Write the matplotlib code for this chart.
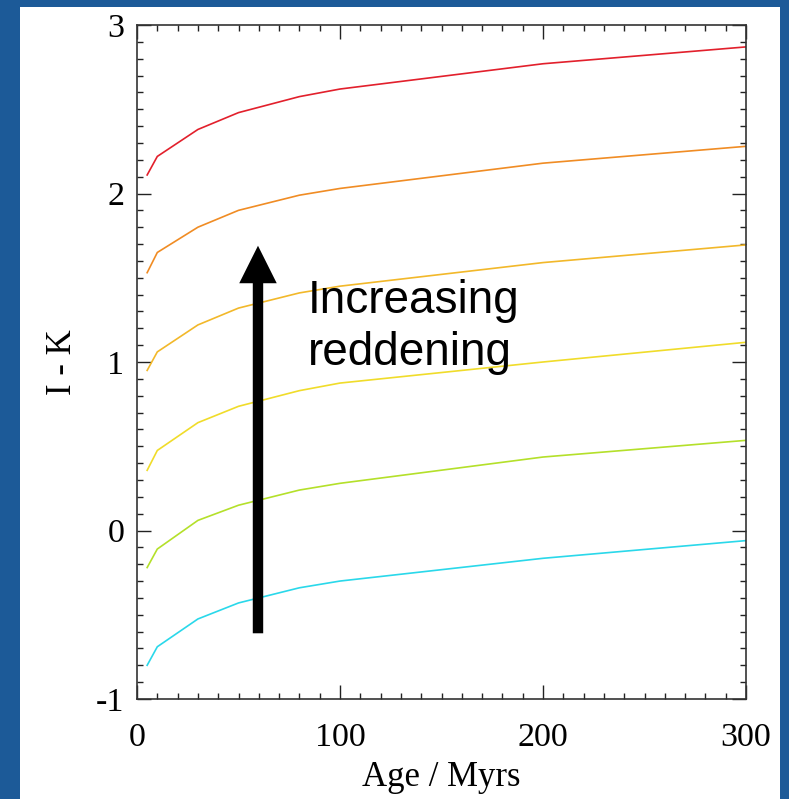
import numpy as np
import matplotlib
matplotlib.use("Agg")
import matplotlib.pyplot as plt
import matplotlib.patches as mpatches
from matplotlib.ticker import MultipleLocator

# Age grid (Myr) and I-K colour for each reddening level
ages = [5, 10, 30, 50, 80, 100, 200, 300]
ik_cyan = [-0.80, -0.69, -0.525, -0.43, -0.34, -0.30, -0.165, -0.06]
ik_green = [-0.22, -0.11, 0.06, 0.15, 0.24, 0.28, 0.436, 0.535]
ik_yellow = [0.357, 0.475, 0.64, 0.737, 0.83, 0.875, 1.0, 1.117]
ik_gold = [0.95, 1.06, 1.22, 1.32, 1.41, 1.45, 1.59, 1.695]
ik_orange = [1.53, 1.65, 1.80, 1.90, 1.99, 2.03, 2.18, 2.28]
ik_red = [2.11, 2.22, 2.38, 2.48, 2.575, 2.62, 2.77, 2.87]

series = [ik_cyan, ik_green, ik_yellow, ik_gold, ik_orange, ik_red]
colors = ['#2ad8ea', '#b4e02a', '#f0dc2a', '#f2b82a', '#f08c24', '#e2202c']

plt.rcParams['font.family'] = ['Liberation Serif', 'DejaVu Serif']
plt.rcParams['axes.unicode_minus'] = False

W, H = 789, 799
fig = plt.figure(figsize=(W / 100, H / 100), dpi=100)
fig.patch.set_facecolor('#1c5a98')

# white slide panel, drawn in a background axes
bg = fig.add_axes([20 / W, 0, 760 / W, (H - 7) / H], zorder=-5)
bg.set_facecolor('white')
bg.set_xticks([])
bg.set_yticks([])
for sp in bg.spines.values():
    sp.set_visible(False)

ax = fig.add_axes([137 / W, (H - 699) / H, (746 - 137) / W, (699 - 25) / H])
ax.set_facecolor('white')

for ys, c in zip(series, colors):
    ax.plot(ages, ys, color=c, lw=1.2)

ax.set_xlim(0, 300)
ax.set_ylim(-1, 3)
ax.xaxis.set_major_locator(MultipleLocator(100))
ax.xaxis.set_minor_locator(MultipleLocator(10))
ax.yaxis.set_major_locator(MultipleLocator(1))
ax.yaxis.set_minor_locator(MultipleLocator(0.1))
ax.tick_params(which='both', direction='in', top=True, right=True, color='#222222')
ax.tick_params(which='major', length=10, width=1)
ax.tick_params(which='minor', length=4.5, width=1)
ax.tick_params(axis='x', which='major', labelsize=24.5, pad=17)
ax.tick_params(axis='y', which='major', labelsize=24.5, pad=9)
for sp in ax.spines.values():
    sp.set_color('#333333')
    sp.set_linewidth(1.2)

ax.set_xlabel('Age / Myrs', fontsize=25, labelpad=6)
ax.set_ylabel('I - K', fontsize=25, labelpad=12)

# reddening arrow
ax.annotate('', xy=(59.6, 1.69), xytext=(59.6, -0.61),
            arrowprops=dict(arrowstyle=mpatches.ArrowStyle.Simple(head_length=27, head_width=27, tail_width=7.5),
                            mutation_scale=1, facecolor='black', edgecolor='none', shrinkA=0, shrinkB=0))
ax.text(84, 1.49, 'Increasing\nreddening', fontsize=33, family='Liberation Sans',
        ha='left', va='top', linespacing=1.22)

fig.savefig('out.png', dpi=100, facecolor=fig.get_facecolor())
